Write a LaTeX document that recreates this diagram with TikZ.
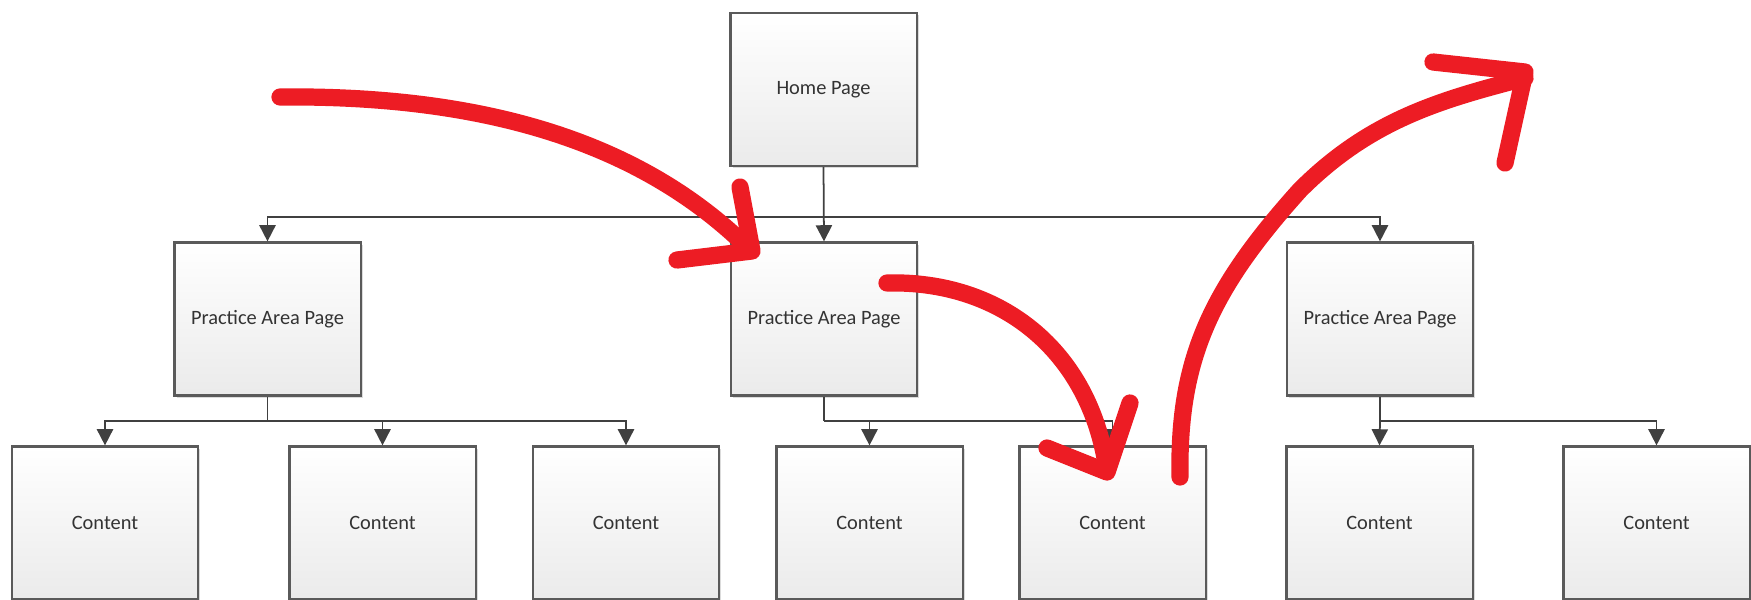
\documentclass[tikz,border=0pt]{standalone}
\usepackage{fontspec}
\setmainfont{Carlito}
\usetikzlibrary{arrows.meta,shadows,calc}
\definecolor{boxline}{HTML}{5A5A5A}
\definecolor{connc}{HTML}{404040}
\definecolor{txt}{HTML}{333333}
\definecolor{pen}{HTML}{ED1C24}
\tikzset{
  pagebox/.style={draw=boxline, line width=0.6pt, top color=white, bottom color=black!8,
    minimum width=1.86cm, minimum height=1.53cm, inner sep=0pt, text=txt,
    font=\fontsize{5.8}{7}\selectfont,
    drop shadow={shadow xshift=0.6pt, shadow yshift=-0.6pt, opacity=0.35, fill=black!40}},
  conn/.style={draw=connc, line width=0.5pt},
  connarrow/.style={conn, -{Triangle[length=4.6pt,width=4.6pt]}},
  redpen/.style={draw=pen, line width=4.9pt, line cap=round, line join=round}
}
\begin{document}
\begin{tikzpicture}[x=0.01cm,y=-0.01cm]
\useasboundingbox (0,0) rectangle (1751,600);
% nodes
\node[pagebox] (home) at (823.5,89.5) {Home Page};
\node[pagebox] (pa1) at (267.5,319) {Practice Area Page};
\node[pagebox] (pa2) at (824,319) {Practice Area Page};
\node[pagebox] (pa3) at (1380,319) {Practice Area Page};
\node[pagebox] (c1) at (105,523) {Content};
\node[pagebox] (c2) at (382.5,523) {Content};
\node[pagebox] (c3) at (626,523) {Content};
\node[pagebox] (c4) at (869.5,523) {Content};
\node[pagebox] (c5) at (1112.5,523) {Content};
\node[pagebox] (c6) at (1379.5,523) {Content};
\node[pagebox] (c7) at (1656.5,523) {Content};
% junctions
\coordinate (j0) at (home.south |- 0,217);
\coordinate (j1) at (pa1.south |- 0,421);
\coordinate (j2) at (pa2.south |- 0,421);
\coordinate (j3) at (pa3.south |- 0,421);
% connectors
\draw[connarrow] (home.south) -- (pa2.north);
\draw[connarrow] (j0) -| (pa1.north);
\draw[connarrow] (j0) -| (pa3.north);
\draw[conn] (pa1.south) -- (j1);
\draw[connarrow] (j1) -| (c1.north);
\draw[connarrow] (j1) -- (c2.north |- j1) -- (c2.north);
\draw[connarrow] (j1) -| (c3.north);
\draw[conn] (pa2.south) -- (j2);
\draw[connarrow] (j2) -| (c4.north);
\draw[connarrow] (j2) -| (c5.north);
\draw[conn] (pa3.south) -- (j3);
\draw[connarrow] (j3) -- (c6.north);
\draw[connarrow] (j3) -| (c7.north);
% red hand-drawn arrows
\draw[redpen] (280,97) .. controls (480,95) and (640,140) .. (750,250);
\draw[redpen] (740,187) -- (752,251) -- (677,260);
\draw[redpen] (887,283) .. controls (1000,280) and (1090,350) .. (1107,470);
\draw[redpen] (1130,403) -- (1107,472) -- (1047,448);
\draw[redpen] (1180,477) .. controls (1178,360) and (1210,290) .. (1300,190)
  .. controls (1370,120) and (1440,100) .. (1525,78);
\draw[redpen] (1433,62) -- (1525,72) -- (1505,163);
\end{tikzpicture}
\end{document}
